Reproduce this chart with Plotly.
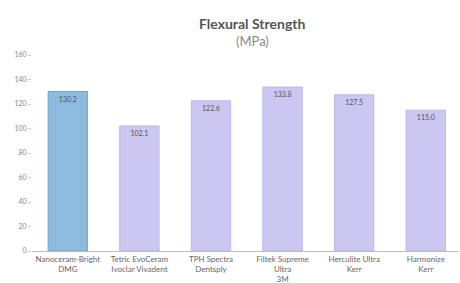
import plotly.graph_objects as go

categories = ["Nanoceram-Bright<br>DMG", "Tetric EvoCeram<br>Ivoclar Vivadent", "TPH Spectra<br>Dentsply",
              "Filtek Supreme<br>Ultra<br>3M", "Herculite Ultra<br>Kerr", "Harmonize<br>Kerr"]
values = [130.2, 102.1, 122.6, 133.8, 127.5, 115.0]
labels = ["130.2", "102.1", "122.6", "133.8", "127.5", "115.0"]
y_ticks = [0, 20, 40, 60, 80, 100, 120, 140, 160]

fill = ["#8dbbe0"] + ["#cbc6f2"] * 5
edge = ["#74a7d2"] + ["#bdb7ee"] * 5

L, R, T, B = 32, 2, 55, 32
W, H = 460, 283

fig = go.Figure(go.Bar(
    x=list(range(len(categories))), y=values, text=labels,
    textposition="inside", insidetextanchor="end", textangle=0,
    textfont=dict(size=7, color="#555555", family="Lato"),
    marker=dict(color=fill, line=dict(color=edge, width=1)),
    width=0.55,
))
pw = W - L - R
ph = H - T - B


def px(x):
    return (x - L) / pw


def py(y_from_top):
    return (H - y_from_top - B) / ph


fig.update_layout(
    width=W, height=H, margin=dict(l=L, r=R, t=T, b=B, autoexpand=False),
    paper_bgcolor="white", plot_bgcolor="white", showlegend=False,
    font=dict(family="Lato", size=7, color="#777777"),
    uniformtext=dict(minsize=7, mode="show"),
    xaxis=dict(tickmode="array", tickvals=list(range(len(categories))), ticktext=categories,
               range=[-0.5, 5.45], showline=True, linecolor="#bbbbbb", linewidth=1,
               showgrid=False, ticks="", automargin=False, tickfont=dict(size=8, color="#666666")),
    yaxis=dict(range=[0, 160], tickvals=y_ticks, showgrid=False, zeroline=False,
               ticks="outside", ticklen=3, tickcolor="#cccccc", showline=False, automargin=False,
               tickfont=dict(size=7, color="#888888")),
    annotations=[
        dict(text="<b>Flexural Strength</b>", x=px(252), y=py(23), xref="paper", yref="paper",
             xanchor="center", yanchor="middle",
             showarrow=False, font=dict(size=14, color="#555555", family="Lato")),
        dict(text="(MPa)", x=px(252), y=py(41), xref="paper", yref="paper",
             xanchor="center", yanchor="middle",
             showarrow=False, font=dict(size=13, color="#888888", family="Lato")),
    ],
)
fig.write_html("out.html", config={"displayModeBar": False},
               post_script="document.body.style.margin='0';document.body.style.padding='0';")
